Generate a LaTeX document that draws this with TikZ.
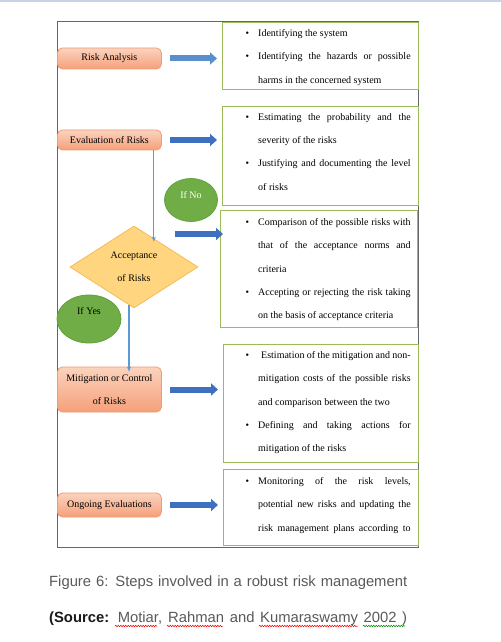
\documentclass[tikz,border=0pt]{standalone}
\usepackage{fontspec}
\setmainfont{Liberation Serif}
\newfontfamily\capfont{Liberation Sans}
\usetikzlibrary{shapes.geometric, arrows.meta, decorations.pathmorphing}

\definecolor{salmontop}{HTML}{FBD3BE}
\definecolor{salmonbot}{HTML}{F5A07A}
\definecolor{salmonline}{HTML}{EE9C74}
\definecolor{notegreen}{HTML}{9BBB59}
\definecolor{leafgreen}{HTML}{70AD47}
\definecolor{leafline}{HTML}{63A03E}
\definecolor{goldfill}{HTML}{FFD580}
\definecolor{goldline}{HTML}{F5BC55}
\definecolor{linkblue}{HTML}{5B9BD5}
\definecolor{arrowlight}{HTML}{5B8FCC}
\definecolor{arrowdark}{HTML}{3F6FC0}
\definecolor{captiongray}{HTML}{595959}
\definecolor{rulegray}{HTML}{C7D4E6}

\newcommand{\bul}{\leavevmode\llap{\textbullet\hspace{9bp}}}

\begin{document}
\begin{tikzpicture}[x=1bp, y=-1bp,
    stepbox/.style={draw=salmonline, top color=salmontop, bottom color=salmonbot,
        rounded corners=5bp, line width=0.8bp, minimum width=104bp, anchor=west,
        align=center, inner sep=0pt, font=\fontsize{10bp}{23.4bp}\selectfont},
    notebox/.style={draw=notegreen, fill=white, line width=1.2bp, anchor=north west, inner sep=0pt},
    notes/.style={anchor=north west, inner sep=0pt, text width=152.5bp, align=justify,
        font=\fontsize{10bp}{23.4bp}\selectfont},
    decision/.style={diamond, aspect=1.56, draw=goldline, fill=goldfill, line width=0.8bp,
        minimum width=128bp, minimum height=82bp, inner sep=0pt, align=center,
        font=\fontsize{10bp}{23.4bp}\selectfont},
    answer/.style={ellipse, draw=leafline, fill=leafgreen, line width=0.8bp, inner sep=0pt,
        font=\fontsize{10bp}{12bp}\selectfont},
    barrow/.style={line width=6bp, -{Triangle[length=7bp, width=12bp]}},
    link/.style={draw=linkblue, line width=1.2bp, -{Stealth[length=5bp, width=4bp]}},
    caption/.style={anchor=base west, inner sep=0pt, text=captiongray,
        font=\capfont\fontsize{14.8bp}{17bp}\selectfont},
    wave/.style={line width=0.5bp, decorate, decoration={snake, amplitude=0.8bp, segment length=2.5bp}}]
    \useasboundingbox (0,0) rectangle (501,642);

    % page rule and frame
    \draw[rulegray, line width=1.6bp] (0,0.8) -- (501,0.8);
    \draw[black!60, line width=1bp] (57,22) rectangle (418,547);

    % boxes on the right
    \node[notebox, minimum width=196bp, minimum height=67bp] (b1) at (222,22) {};
    \node[notebox, minimum width=196bp, minimum height=99bp] (b2) at (222,106) {};
    \node[notebox, minimum width=197bp, minimum height=117bp] (b3) at (220,210) {};
    \node[notebox, minimum width=195bp, minimum height=118bp] (b4) at (223,344) {};
    \node[notebox, minimum width=195bp, minimum height=76bp] (b5) at (223,469) {};

    \node[notes] (t1) at ([shift={(36,7)}]b1.north west)
        {\bul Identifying the system\par
         \bul Identifying the hazards or possible\linebreak harms in the concerned system};
    \node[notes] (t2) at ([shift={(36,7)}]b2.north west)
        {\bul Estimating the probability and the\linebreak severity of the risks\par
         \bul Justifying and documenting the level\linebreak of risks};
    \node[notes] (t3) at ([shift={(38,8)}]b3.north west)
        {\bul Comparison of the possible risks with\linebreak that of the acceptance norms and\linebreak criteria\par
         \bul Accepting or rejecting the risk taking\linebreak on the basis of acceptance criteria};
    \node[notes] (t4) at ([shift={(35,7)}]b4.north west)
        {\bul \hspace{3bp}Estimation of the mitigation and non-\linebreak mitigation costs of the possible risks\linebreak and comparison between the two\par
         \bul Defining and taking actions for\linebreak mitigation of the risks};
    \node[notes] (t5) at ([shift={(35,8)}]b5.north west)
        {\parfillskip=0pt
         \bul Monitoring of the risk levels,\linebreak potential new risks and updating the\linebreak risk management plans according to\par};

    % steps on the left
    \node[stepbox, minimum height=21bp] (ra) at (57,58.5) {Risk Analysis};
    \node[stepbox, minimum height=20bp] (ev) at (57,140) {Evaluation of Risks};
    \node[decision] (acc) at (134,267) {Acceptance\\of Risks};
    \node[stepbox, minimum height=45bp] (mit) at (57,389.5) {Mitigation or Control\\of Risks};
    \node[stepbox, minimum height=24bp] (og) at (57,505) {Ongoing Evaluations};

    \node[answer, minimum width=53bp, minimum height=43bp, text=white] (no) at (191,200)
        {\raisebox{2bp}[0pt][0pt]{If No}};
    \node[answer, minimum width=64bp, minimum height=48bp] (yes) at (89,319)
        {\raisebox{4.5bp}[0pt][0pt]{If Yes}};

    % block arrows
    \foreach \s/\t/\c in {ra/b1/arrowlight, ev/b2/arrowdark, mit/b4/arrowdark, og/b5/arrowdark} {
        \draw[barrow, \c] ([xshift=8bp]\s.east) -- ([xshift=-5bp]\s.east -| \t.west);
    }
    \coordinate (accout) at ([shift={(-23,-33)}]acc.east);
    \draw[barrow, arrowdark] (accout) -- ([xshift=3bp]accout -| b3.west);

    % thin links
    \draw[link] ([xshift=-8bp]ev.south east) -- ([xshift=-8bp, yshift=-16bp]ev.south east |- acc.north);
    \draw[link] ([xshift=-5bp, yshift=3bp]acc.south) -- ([xshift=-5bp, yshift=-5bp]acc.south |- mit.north);

    % caption
    \node[caption] (cap1) at (49,586)
        {\hbox to 358bp{Figure 6: Steps involved in a robust risk management}};
    \node[caption] (cap2) at (49,622)
        {\hbox to 358bp{{\bfseries\color{black!90}(Source:} Motiar, Rahman and Kumaraswamy 2002 )}};

    % spelling marks
    \foreach \a/\b in {115/157, 167/223, 259/358} {
        \draw[wave, red] (\a,626) -- (\b,626);
    }
    \draw[wave, green!55!black] (363,626) -- (405,626);
\end{tikzpicture}
\end{document}
